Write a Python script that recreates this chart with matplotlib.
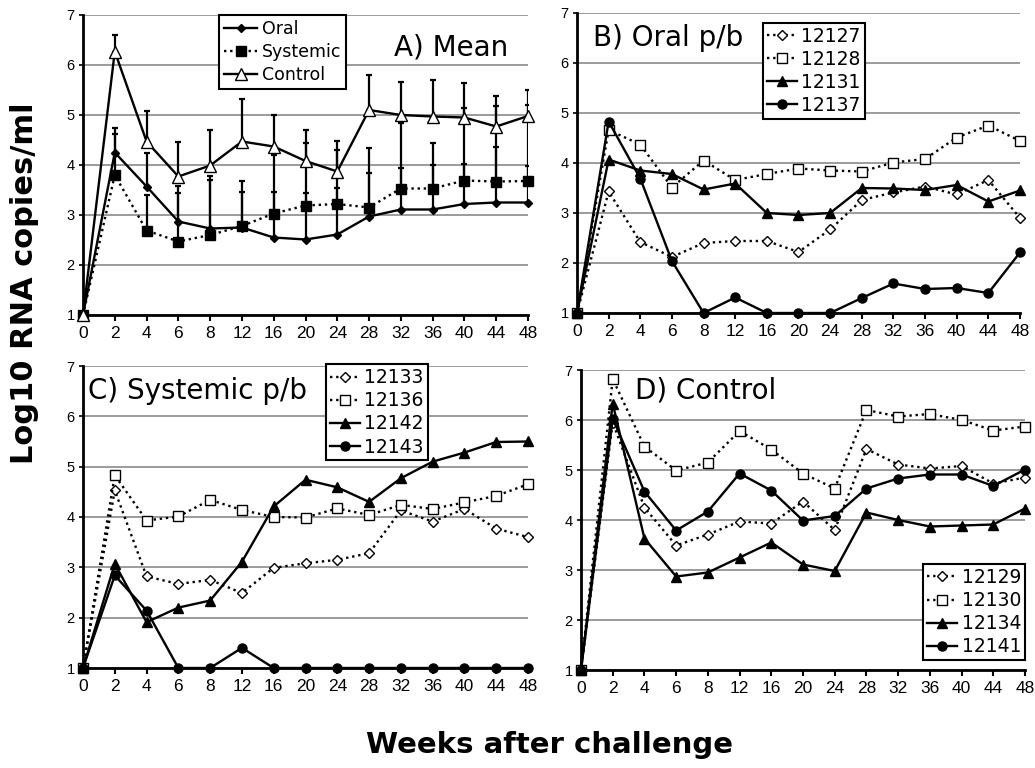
import matplotlib
matplotlib.use("Agg")
import matplotlib.pyplot as plt
import numpy as np

weeks = ['0', '2', '4', '6', '8', '12', '16', '20', '24', '28', '32', '36', '40', '44', '48']

# Panel A: means and upper error-bar caps
oral_mean = [1, 4.25, 3.57, 2.87, 2.73, 2.75, 2.55, 2.51, 2.61, 2.97, 3.11, 3.11, 3.22, 3.25, 3.25]
oral_cap = [1, 4.75, 4.24, 3.58, 3.70, 3.69, 3.47, 3.45, 3.55, 3.85, 3.94, 4.00, 4.02, 4.37, 3.99]
sys_mean = [1, 3.80, 2.69, 2.47, 2.60, 2.78, 3.03, 3.19, 3.22, 3.15, 3.53, 3.53, 3.69, 3.67, 3.68]
sys_cap = [1, 4.62, 3.40, 3.45, 3.78, 3.47, 4.20, 4.45, 4.30, 4.35, 4.84, 4.44, 5.15, 5.18, 5.20]
ctrl_mean = [1, 6.27, 4.47, 3.77, 3.99, 4.47, 4.37, 4.08, 3.87, 5.10, 5.00, 4.97, 4.95, 4.77, 4.98]
ctrl_cap = [1, 6.60, 5.08, 4.47, 4.71, 5.33, 5.01, 4.69, 4.48, 5.80, 5.67, 5.70, 5.65, 5.38, 5.50]

# Panel B: Oral p/b
b_12127 = [1, 3.43, 2.42, 2.12, 2.40, 2.44, 2.44, 2.22, 2.67, 3.26, 3.41, 3.53, 3.37, 3.66, 2.90]
b_12128 = [1, 4.66, 4.37, 3.51, 4.05, 3.66, 3.78, 3.89, 3.85, 3.83, 4.01, 4.08, 4.51, 4.75, 4.44]
b_12131 = [1, 4.07, 3.85, 3.78, 3.47, 3.59, 3.00, 2.96, 3.00, 3.50, 3.49, 3.46, 3.56, 3.23, 3.45]
b_12137 = [1, 4.83, 3.69, 2.04, 1.00, 1.31, 1.00, 1.00, 1.00, 1.30, 1.59, 1.48, 1.50, 1.40, 2.21]

# Panel C: Systemic p/b
c_12133 = [1, 4.53, 2.82, 2.67, 2.75, 2.49, 2.99, 3.08, 3.15, 3.28, 4.13, 3.91, 4.16, 3.77, 3.60]
c_12136 = [1, 4.83, 3.93, 4.01, 4.34, 4.14, 4.00, 3.99, 4.17, 4.04, 4.24, 4.16, 4.29, 4.42, 4.65]
c_12142 = [1, 3.07, 1.91, 2.20, 2.34, 3.11, 4.21, 4.74, 4.59, 4.30, 4.77, 5.10, 5.28, 5.49, 5.50]
c_12143 = [1, 2.84, 2.14, 1.00, 1.00, 1.40, 1.00, 1.00, 1.00, 1.00, 1.00, 1.00, 1.00, 1.00, 1.00]

# Panel D: Control
d_12129 = [1, 5.95, 4.25, 3.49, 3.71, 3.97, 3.93, 4.37, 3.80, 5.42, 5.11, 5.03, 5.08, 4.73, 4.85]
d_12130 = [1, 6.82, 5.47, 4.99, 5.15, 5.78, 5.41, 4.93, 4.63, 6.20, 6.07, 6.12, 6.00, 5.79, 5.87]
d_12134 = [1, 6.33, 3.63, 2.87, 2.95, 3.25, 3.55, 3.11, 2.98, 4.15, 4.00, 3.87, 3.89, 3.91, 4.23]
d_12141 = [1, 6.03, 4.57, 3.79, 4.17, 4.93, 4.59, 3.99, 4.08, 4.63, 4.83, 4.91, 4.91, 4.68, 5.01]

FONT = 'DejaVu Sans'
DOT = (0, (1, 1.6))

fig = plt.figure(figsize=(10.35, 7.68), dpi=100)

rects = {
    'A': [83 / 1035, 1 - 315 / 768, 445 / 1035, 300 / 768],
    'B': [577 / 1035, 1 - 313 / 768, 443 / 1035, 300 / 768],
    'C': [83 / 1035, 1 - 668 / 768, 445 / 1035, 302 / 768],
    'D': [581 / 1035, 1 - 670 / 768, 444 / 1035, 300 / 768],
}

x = np.arange(len(weeks))


def style_axes(ax):
    ax.set_xlim(0, len(weeks) - 1)
    ax.set_ylim(1, 7)
    ax.set_yticks(range(1, 8))
    ax.set_xticks(x)
    ax.set_xticklabels(weeks, fontsize=12.5, family='Liberation Sans')
    ax.tick_params(axis='y', labelsize=10.5, length=3, width=1.2, pad=3)
    ax.tick_params(axis='x', length=4, width=1.5, pad=4)
    for lab in ax.get_yticklabels():
        lab.set_family('Liberation Sans')
    ax.spines['top'].set_visible(False)
    ax.spines['right'].set_visible(False)
    ax.spines['left'].set_linewidth(2)
    ax.spines['bottom'].set_linewidth(2)
    ax.yaxis.grid(True, color='#8a8a8a', linewidth=1.2)
    ax.set_axisbelow(True)


def series(ax, y, ls, marker, filled, ms, label):
    ax.plot(x, y, color='black', linestyle=ls, linewidth=1.7, marker=marker,
            markersize=ms, markerfacecolor='black' if filled else 'white',
            markeredgecolor='black', markeredgewidth=1.0, clip_on=False,
            label=label, zorder=3)


def legend(ax, loc, anchor):
    leg = ax.legend(loc=loc, bbox_to_anchor=anchor, frameon=True, fancybox=False,
                    edgecolor='black', framealpha=1, prop={'family': FONT, 'size': 13.5},
                    handlelength=1.6, handletextpad=0.25, labelspacing=0.22,
                    borderpad=0.2, borderaxespad=0)
    leg.get_frame().set_linewidth(1.5)
    return leg


# ---- Panel A ----
axA = fig.add_axes(rects['A'])
style_axes(axA)
for mean, cap in [(oral_mean, oral_cap), (sys_mean, sys_cap), (ctrl_mean, ctrl_cap)]:
    m = np.array(mean)
    up = np.array(cap) - m
    axA.errorbar(x[1:], m[1:], yerr=[np.zeros(len(m) - 1), up[1:]], fmt='none',
                 ecolor='black', elinewidth=1.6, capsize=2.5, capthick=1.6, zorder=2)
series(axA, oral_mean, '-', 'D', True, 4.5, 'Oral')
series(axA, sys_mean, DOT, 's', True, 7, 'Systemic')
series(axA, ctrl_mean, '-', '^', False, 8, 'Control')
lg = axA.legend(loc='upper left', bbox_to_anchor=(0.306, 1.0), frameon=True, fancybox=False,
                edgecolor='black', framealpha=1, prop={'family': FONT, 'size': 12.5},
                handlelength=1.9, handletextpad=0.25, labelspacing=0.28,
                borderpad=0.3, borderaxespad=0)
lg.get_frame().set_linewidth(1.5)
axA.text(0.955, 0.893, 'A) Mean', transform=axA.transAxes, ha='right', va='center',
         fontsize=20, family=FONT)

# ---- Panel B ----
axB = fig.add_axes(rects['B'])
style_axes(axB)
series(axB, b_12127, DOT, 'D', False, 5, '12127')
series(axB, b_12128, DOT, 's', False, 6.5, '12128')
series(axB, b_12131, '-', '^', True, 6.5, '12131')
series(axB, b_12137, '-', 'o', True, 6.5, '12137')
legend(axB, 'upper left', (0.42, 0.967))
axB.text(0.036, 0.917, 'B) Oral p/b', transform=axB.transAxes, ha='left', va='center',
         fontsize=20, family=FONT)

# ---- Panel C ----
axC = fig.add_axes(rects['C'])
style_axes(axC)
series(axC, c_12133, DOT, 'D', False, 5, '12133')
series(axC, c_12136, DOT, 's', False, 6.5, '12136')
series(axC, c_12142, '-', '^', True, 6.5, '12142')
series(axC, c_12143, '-', 'o', True, 6.5, '12143')
legend(axC, 'upper left', (0.546, 1.005))
axC.text(0.011, 0.917, 'C) Systemic p/b', transform=axC.transAxes, ha='left', va='center',
         fontsize=20, family=FONT)

# ---- Panel D ----
axD = fig.add_axes(rects['D'])
style_axes(axD)
series(axD, d_12129, DOT, 'D', False, 5, '12129')
series(axD, d_12130, DOT, 's', False, 6.5, '12130')
series(axD, d_12134, '-', '^', True, 6.5, '12134')
series(axD, d_12141, '-', 'o', True, 6.5, '12141')
legend(axD, 'lower right', (1.0, 0.033))
axD.text(0.122, 0.933, 'D) Control', transform=axD.transAxes, ha='left', va='center',
         fontsize=20, family=FONT)

fig.text(0.024, 1 - 283 / 768, 'Log10 RNA copies/ml', rotation=90, ha='center', va='center',
         fontsize=22, fontweight='bold', family=FONT)
fig.text(550 / 1035, 1 - 753 / 768, 'Weeks after challenge', ha='center', va='baseline',
         fontsize=21, fontweight='bold', family=FONT)

fig.savefig('out.png', dpi=100, facecolor='white')
